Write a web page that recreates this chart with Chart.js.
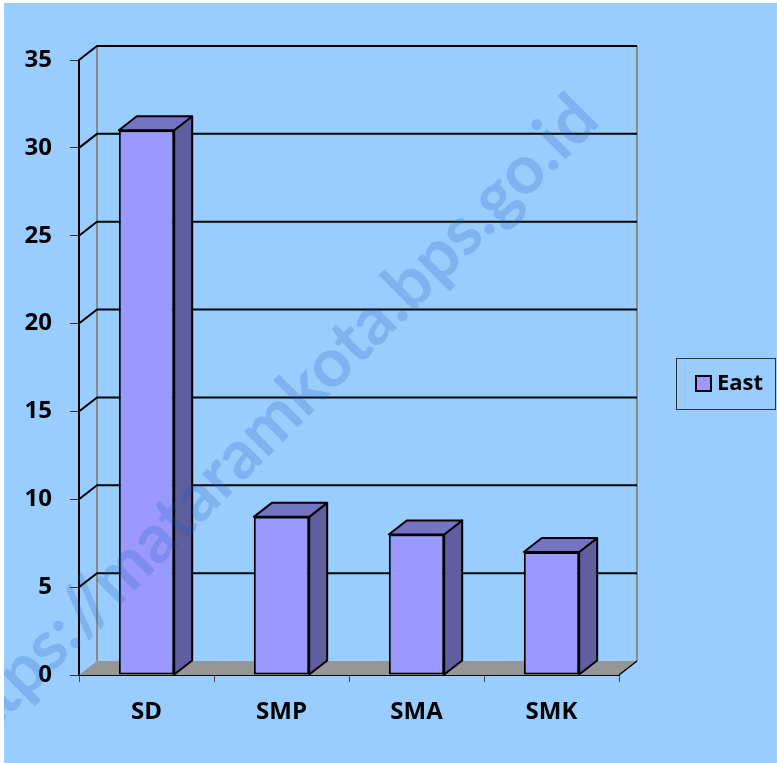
<!DOCTYPE html>
<html>
<head>
<meta charset="utf-8">
<script src="https://cdn.jsdelivr.net/npm/chart.js@4.4.0/dist/chart.umd.min.js"></script>
<style>
    html, body { margin: 0; padding: 0; background: #fff; }
    #wrap { position: absolute; left: 4px; top: 3px; width: 773px; height: 760px; background: #99ccff; }
</style>
</head>
<body>
<div id="wrap"><canvas id="chart" width="773" height="760"></canvas></div>
<script>
const categories = ['SD', 'SMP', 'SMA', 'SMK'];
const eastValues = [31, 9, 8, 7];
const seriesName = 'East';
const yTicks = [0, 5, 10, 15, 20, 25, 30, 35];
const watermark = 'https://mataramkota.bps.go.id';

// depth of the fake 3d box
const DX = 18, DY = -14;
const labelFont = { family: 'Open Sans', size: 24, weight: 'bold' };

function poly(ctx, pts, fill, stroke, lw) {
    ctx.beginPath();
    ctx.moveTo(pts[0][0], pts[0][1]);
    for (let i = 1; i < pts.length; i++) ctx.lineTo(pts[i][0], pts[i][1]);
    ctx.closePath();
    if (fill) { ctx.fillStyle = fill; ctx.fill(); }
    if (stroke) { ctx.strokeStyle = stroke; ctx.lineWidth = lw; ctx.stroke(); }
}

const box3d = {
    id: 'box3d',
    beforeDatasetsDraw(chart) {
        const ctx = chart.ctx, a = chart.chartArea, y = chart.scales.y;
        ctx.save();
        // floor
        poly(ctx, [[a.left, a.bottom], [a.right, a.bottom], [a.right + DX, a.bottom + DY], [a.left + DX, a.bottom + DY]], '#969696', null, 0);
        // wall edges
        ctx.strokeStyle = '#8a8a8a';
        ctx.lineWidth = 2;
        ctx.beginPath();
        ctx.moveTo(a.left + DX, a.top + DY); ctx.lineTo(a.left + DX, a.bottom + DY);
        ctx.moveTo(a.right + DX, a.top + DY); ctx.lineTo(a.right + DX, a.bottom + DY);
        ctx.stroke();
        // gridlines on back wall
        ctx.strokeStyle = '#000';
        for (const v of yTicks) {
            if (v === 0) continue;
            const py = y.getPixelForValue(v);
            ctx.beginPath();
            ctx.moveTo(a.left, py);
            ctx.lineTo(a.left + DX, py + DY);
            ctx.lineTo(a.right + DX, py + DY);
            ctx.stroke();
        }
        ctx.lineWidth = 1.5;
        ctx.beginPath();
        ctx.moveTo(a.right, a.bottom); ctx.lineTo(a.right + DX, a.bottom + DY);
        ctx.stroke();
        ctx.restore();
    },
    afterDatasetsDraw(chart) {
        const ctx = chart.ctx;
        ctx.save();
        ctx.lineJoin = 'round';
        for (const bar of chart.getDatasetMeta(0).data) {
            const l = bar.x - bar.width / 2, r = bar.x + bar.width / 2;
            poly(ctx, [[r, bar.y], [r + DX, bar.y + DY], [r + DX, bar.base + DY], [r, bar.base]], '#5f5f9f', '#000', 2);
            poly(ctx, [[l, bar.y], [r, bar.y], [r + DX, bar.y + DY], [l + DX, bar.y + DY]], '#7474c4', '#000', 2);
        }
        ctx.restore();
    },
    afterDraw(chart) {
        const ctx = chart.ctx;
        const ds = chart.data.datasets[0];
        ctx.save();
        // legend
        ctx.strokeStyle = '#333';
        ctx.lineWidth = 1;
        ctx.strokeRect(672.5, 355.5, 99, 51);
        ctx.fillStyle = ds.backgroundColor;
        ctx.fillRect(692, 373, 15, 15);
        ctx.strokeStyle = '#000';
        ctx.lineWidth = 2;
        ctx.strokeRect(692, 373, 15, 15);
        ctx.fillStyle = '#000';
        ctx.font = 'bold 22px "Open Sans"';
        ctx.textBaseline = 'middle';
        ctx.fillText(ds.label, 713, 381);
        // watermark
        ctx.translate(598, 120);
        ctx.rotate(-Math.PI / 4);
        ctx.font = 'bold 68px Lato';
        ctx.textAlign = 'right';
        ctx.textBaseline = 'alphabetic';
        ctx.fillStyle = 'rgba(30, 90, 180, 0.21)';
        ctx.fillText(watermark, 0, 0);
        ctx.restore();
    }
};

new Chart(document.getElementById('chart'), {
    type: 'bar',
    data: {
        labels: categories,
        datasets: [{
            label: seriesName,
            data: eastValues,
            backgroundColor: '#9999ff',
            borderColor: '#000',
            borderWidth: 2,
            borderSkipped: false,
            categoryPercentage: 1,
            barPercentage: 0.41
        }]
    },
    options: {
        responsive: false,
        animation: false,
        layout: { padding: { top: 57, right: 158, left: 0, bottom: 0 } },
        plugins: { legend: { display: false }, tooltip: { enabled: false } },
        scales: {
            x: {
                afterFit(scale) { scale.height = 88; },
                grid: { offset: true, drawOnChartArea: false, tickLength: 7, color: '#444', lineWidth: 1 },
                border: { color: '#000', width: 2 },
                ticks: { color: '#000', padding: 16, font: labelFont }
            },
            y: {
                min: 0,
                max: 35,
                afterFit(scale) { scale.width = 75; },
                afterBuildTicks(scale) { scale.ticks = yTicks.map(v => ({ value: v })); },
                grid: { drawOnChartArea: false, tickLength: 9, color: '#333', lineWidth: 1 },
                border: { color: '#000', width: 2 },
                ticks: { color: '#000', padding: 18, font: labelFont }
            }
        }
    },
    plugins: [box3d]
});
</script>
</body>
</html>
